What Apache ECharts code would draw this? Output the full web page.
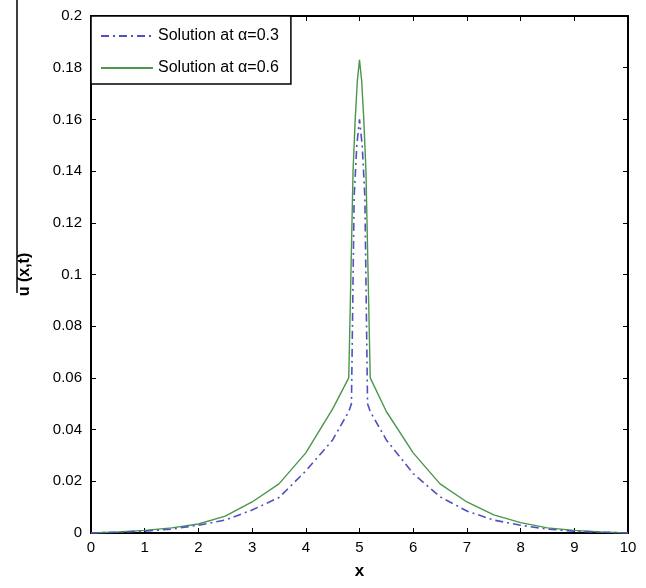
<!DOCTYPE html>
<html>
<head>
<meta charset="utf-8">
<script src="https://cdn.jsdelivr.net/npm/echarts@6/dist/echarts.min.js"></script>
<style>
  html, body { margin: 0; padding: 0; background: #fff; }
  #chart { width: 646px; height: 588px; }
</style>
</head>
<body>
<div id="chart"></div>
<script>
const legendNames = ["Solution at \u03b1=0.3", "Solution at \u03b1=0.6"]

// alpha = 0.3 (dash-dot)
const blueX = [0, 0.5, 1, 1.5, 2, 2.5, 3, 3.5, 4, 4.5, 4.8, 4.85, 4.9, 4.95, 5.0, 5.05, 5.1, 5.15, 5.2, 5.5, 6, 6.5, 7, 7.5, 8, 8.5, 9, 9.5, 10]
const blueU = [0, 0.0003, 0.0007, 0.0015, 0.003, 0.005, 0.0089, 0.0137, 0.024, 0.036, 0.047, 0.05, 0.13, 0.15, 0.16, 0.15, 0.13, 0.05, 0.047, 0.036, 0.023, 0.014, 0.0085, 0.005, 0.003, 0.0015, 0.0007, 0.0003, 0]

// alpha = 0.6 (solid)
const greenX = [0, 0.5, 1, 1.5, 2, 2.5, 3, 3.5, 4, 4.5, 4.8, 4.84, 4.88, 4.92, 4.96, 5.0, 5.04, 5.08, 5.12, 5.16, 5.2, 5.5, 6, 6.5, 7, 7.5, 8, 8.5, 9, 9.5, 10]
const greenU = [0, 0.0004, 0.001, 0.002, 0.0035, 0.0065, 0.012, 0.019, 0.031, 0.048, 0.06, 0.1, 0.14, 0.16, 0.175, 0.183, 0.175, 0.16, 0.14, 0.1, 0.06, 0.047, 0.031, 0.019, 0.012, 0.007, 0.004, 0.002, 0.001, 0.0004, 0]

const font = "'Liberation Sans Narrow', 'Liberation Sans', Arial, sans-serif"

const chart = echarts.init(document.getElementById("chart"))

const boxAxis = {
  axisLine: { show: true, onZero: false, lineStyle: { color: "#000", width: 2 } },
  axisTick: { show: true, inside: true, length: 5, lineStyle: { color: "#000", width: 1 } },
  splitLine: { show: false }
}

chart.setOption({
  animation: false,
  backgroundColor: "#fff",
  grid: { left: 91, right: 18, top: 16, bottom: 55 },
  legend: {
    orient: "vertical",
    left: 91,
    top: 16,
    data: legendNames,
    backgroundColor: "#fff",
    borderColor: "#000",
    borderWidth: 1.5,
    borderRadius: 0,
    padding: [12, 12, 8, 9],
    itemGap: 16,
    itemWidth: 52,
    itemHeight: 16,
    itemStyle: { opacity: 0 },
    textStyle: { fontFamily: font, fontSize: 16, color: "#000" }
  },
  xAxis: [
    {
      type: "value", min: 0, max: 10, interval: 1, position: "bottom",
      name: "x", nameLocation: "middle", nameGap: 30,
      nameTextStyle: { fontFamily: font, fontSize: 17, fontWeight: "bold", color: "#000" },
      axisLabel: { fontFamily: font, fontSize: 15, color: "#000", margin: 7 },
      ...boxAxis
    },
    {
      type: "value", min: 0, max: 10, interval: 1, position: "top",
      axisLabel: { show: false },
      ...boxAxis
    }
  ],
  yAxis: [
    {
      type: "value", min: 0, max: 0.2, interval: 0.02, position: "left",
      name: "u (x,t)", nameLocation: "middle", nameGap: 58,
      nameTextStyle: { fontFamily: font, fontSize: 16, fontWeight: "bold", color: "#000", padding: [0, 0, 0, 0] },
      axisLabel: { fontFamily: font, fontSize: 15, color: "#000", margin: 9 },
      ...boxAxis
    },
    {
      type: "value", min: 0, max: 0.2, interval: 0.02, position: "right",
      axisLabel: { show: false },
      ...boxAxis
    }
  ],
  graphic: [
    {
      type: "line",
      shape: { x1: 17, y1: 0, x2: 17, y2: 293 },
      style: { stroke: "#000", lineWidth: 1.5 }
    }
  ],
  series: [
    {
      name: legendNames[0],
      type: "line",
      data: blueX.map((x, i) => [x, blueU[i]]),
      showSymbol: false,
      symbol: "none",
      lineStyle: { color: "#5050c0", width: 1.6, type: [8, 4, 2, 4] },
      itemStyle: { color: "#5050c0" },
      z: 3
    },
    {
      name: legendNames[1],
      type: "line",
      data: greenX.map((x, i) => [x, greenU[i]]),
      showSymbol: false,
      symbol: "none",
      lineStyle: { color: "#4a964a", width: 1.4 },
      itemStyle: { color: "#4a964a" },
      z: 2
    }
  ]
})
</script>
</body>
</html>
